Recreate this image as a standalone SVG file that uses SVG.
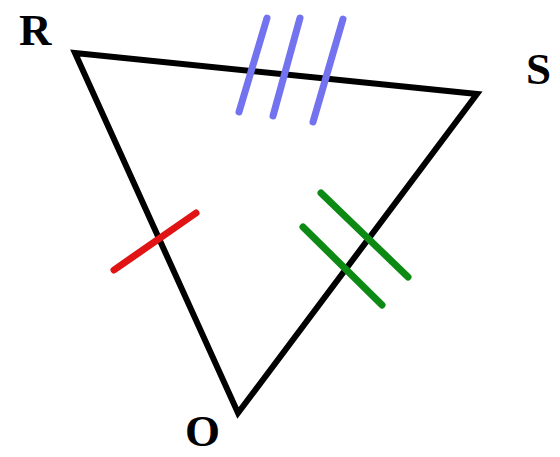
<svg xmlns="http://www.w3.org/2000/svg" width="560" height="457" viewBox="0 0 560 457">
<style>
.lbl{font-family:"Liberation Serif","Times New Roman",serif;font-weight:bold;font-size:45px;fill:#000}
.edge{fill:none;stroke:#000;stroke-width:6;stroke-linejoin:miter}
.tick{fill:none;stroke-width:7;stroke-linecap:round}
.blue{stroke:#7373f0}
.red{stroke:#e01414}
.green{stroke:#0c8a14}
</style>
<rect width="560" height="457" fill="#fff"/>
<g id="connectors">
<polygon class="edge" points="75,53 477,94 238,413"/>
</g>
<g id="ticks">
<line class="tick blue" x1="267" y1="18" x2="239" y2="112"/>
<line class="tick blue" x1="300" y1="18" x2="273" y2="116"/>
<line class="tick blue" x1="343" y1="19" x2="313" y2="122"/>
<line class="tick red" x1="114" y1="270" x2="196" y2="213"/>
<line class="tick green" x1="321" y1="193" x2="408" y2="277"/>
<line class="tick green" x1="303" y1="227" x2="382" y2="305"/>
</g>
<g id="R"><text class="lbl" x="19" y="45">R</text></g>
<g id="S"><text class="lbl" x="526" y="84">S</text></g>
<g id="O"><text class="lbl" x="185" y="446">O</text></g>
</svg>
